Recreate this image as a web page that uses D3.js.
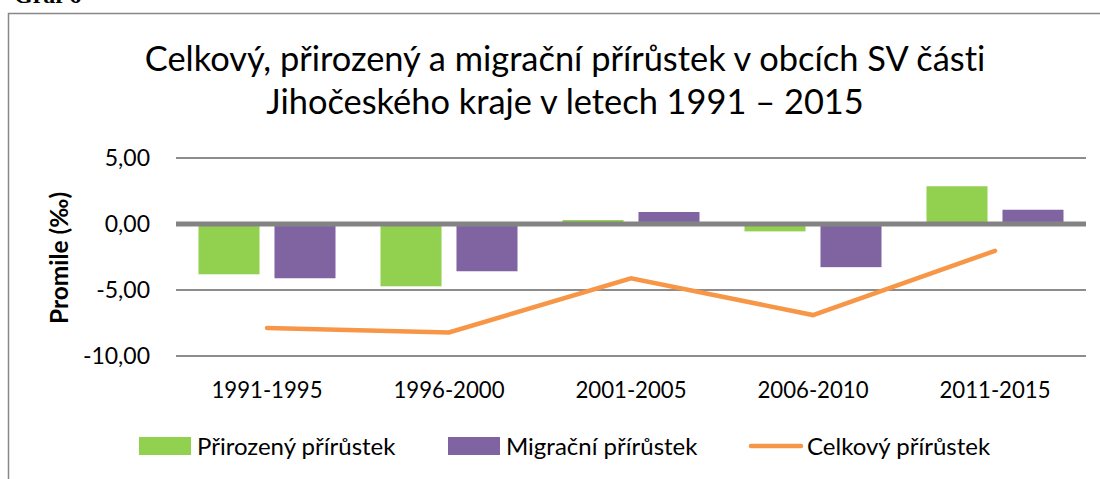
<!DOCTYPE html>
<html>
<head>
<meta charset="utf-8">
<script src="https://cdn.jsdelivr.net/npm/d3@7"></script>
<style>
  body { margin: 0; background: #fff; }
  svg { display: block; font-family: Lato, "Open Sans", sans-serif; font-variant-ligatures: none; }
</style>
</head>
<body>
<svg id="chart" width="1100" height="479"></svg>
<script>
// data
const categories = ["1991-1995", "1996-2000", "2001-2005", "2006-2010", "2011-2015"];
const prirozeny = [-3.81, -4.72, 0.30, -0.56, 2.86];
const migracni = [-4.11, -3.58, 0.91, -3.27, 1.08];
const celkovy = [-7.87, -8.22, -4.11, -6.90, -2.03];
const yTicks = [-10, -5, 0, 5];
const seriesNames = ["Přirozený přírůstek", "Migrační přírůstek", "Celkový přírůstek"];
const titleLines = ["Celkový, přirozený a migrační přírůstek v obcích SV části",
                    "Jihočeského kraje v letech 1991 – 2015"];

const colors = { green: "#92D050", purple: "#8064A2", orange: "#F79646", grid: "#8c8c8c" };

const svg = d3.select("#chart");
const margin = { left: 176, right: 14 };
const W = 1100;

// cropped caption above the chart box
svg.append("text")
    .attr("x", 14).attr("y", 3)
    .style("font-family", "'Liberation Serif', serif")
    .style("font-weight", "bold")
    .style("font-size", "24px")
    .text("Graf 6");

// chart box border (right & bottom run off the picture)
svg.append("rect")
    .attr("x", 8.5).attr("y", 13.5)
    .attr("width", 1200).attr("height", 600)
    .attr("fill", "none")
    .attr("stroke", "#888").attr("stroke-width", 1.5);

const x = d3.scaleBand()
    .domain(categories)
    .range([margin.left, W - margin.right]);

const xs = d3.scaleBand()
    .domain([0, 1])
    .range([0, x.bandwidth()])
    .paddingInner(0.197)
    .paddingOuter(0.296);

const y = d3.scaleLinear()
    .domain([-10, 5])
    .range([356, 158]);

const loc = d3.formatLocale({ decimal: ",", thousands: " ", grouping: [3], currency: ["", " Kč"], minus: "-" });
const fmt = loc.format(".2f");

// title
svg.append("g").selectAll("text")
    .data(titleLines)
    .join("text")
    .attr("x", 565)
    .attr("y", (d, i) => 71 + i * 43)
    .attr("text-anchor", "middle")
    .style("font-size", "34.4px")
    .style("fill", "#000")
    .text(d => d);

// grid lines
svg.append("g").selectAll("line")
    .data(yTicks.filter(d => d !== 0))
    .join("line")
    .attr("x1", margin.left).attr("x2", W - margin.right)
    .attr("y1", d => y(d)).attr("y2", d => y(d))
    .attr("stroke", colors.grid).attr("stroke-width", 2);

// y axis labels
const yAxis = d3.axisLeft(y).tickValues(yTicks).tickFormat(fmt).tickSize(0).tickPadding(26);
const gy = svg.append("g")
    .attr("transform", `translate(${margin.left},0)`)
    .call(yAxis);
gy.select(".domain").remove();
gy.selectAll("text")
    .style("font-family", "Lato, sans-serif")
    .style("font-size", "23px")
    .attr("fill", "#000");

// y title
svg.append("text")
    .attr("transform", `translate(68,258) rotate(-90)`)
    .attr("text-anchor", "middle")
    .style("font-weight", "bold")
    .style("font-size", "24.5px")
    .text("Promile (‰)");

// bars
const barSeries = [prirozeny, migracni];
const barColors = [colors.green, colors.purple];
barSeries.forEach((vals, si) => {
    svg.append("g").selectAll("rect")
        .data(vals)
        .join("rect")
        .attr("x", (d, i) => x(categories[i]) + xs(si))
        .attr("width", xs.bandwidth())
        .attr("y", d => y(Math.max(0, d)))
        .attr("height", d => Math.abs(y(d) - y(0)))
        .attr("fill", barColors[si]);
});

// zero axis
svg.append("line")
    .attr("x1", margin.left).attr("x2", W - margin.right)
    .attr("y1", y(0)).attr("y2", y(0))
    .attr("stroke", "#838383").attr("stroke-width", 5);

// total line
const line = d3.line()
    .x((d, i) => x(categories[i]) + x.bandwidth() / 2)
    .y(d => y(d));
svg.append("path")
    .datum(celkovy)
    .attr("d", line)
    .attr("fill", "none")
    .attr("stroke", colors.orange)
    .attr("stroke-width", 4.5)
    .attr("stroke-linecap", "round");

// x axis labels
const xAxis = d3.axisBottom(x).tickSize(0).tickPadding(0);
const gx = svg.append("g")
    .attr("transform", `translate(0,398)`)
    .call(xAxis);
gx.select(".domain").remove();
gx.selectAll("text")
    .attr("dy", 0)
    .style("font-family", "Lato, sans-serif")
    .style("font-size", "22.2px")
    .attr("fill", "#000");

// legend
const legendItems = [
    { name: seriesNames[0], type: "bar", color: colors.green, x: 139 },
    { name: seriesNames[1], type: "bar", color: colors.purple, x: 448 },
    { name: seriesNames[2], type: "line", color: colors.orange, x: 749 }
];
const lg = svg.append("g").attr("transform", "translate(0,446)");
const li = lg.selectAll("g").data(legendItems).join("g")
    .attr("transform", d => `translate(${d.x},0)`);
li.filter(d => d.type === "bar").append("rect")
    .attr("x", 0).attr("y", -9).attr("width", 52).attr("height", 18)
    .attr("fill", d => d.color);
li.filter(d => d.type === "line").append("line")
    .attr("x1", 2).attr("x2", 52).attr("y1", 0).attr("y2", 0)
    .attr("stroke", d => d.color).attr("stroke-width", 4.5)
    .attr("stroke-linecap", "round");
li.append("text")
    .attr("x", 58).attr("y", 8.5)
    .style("font-size", "24px")
    .text(d => d.name);
</script>
</body>
</html>
